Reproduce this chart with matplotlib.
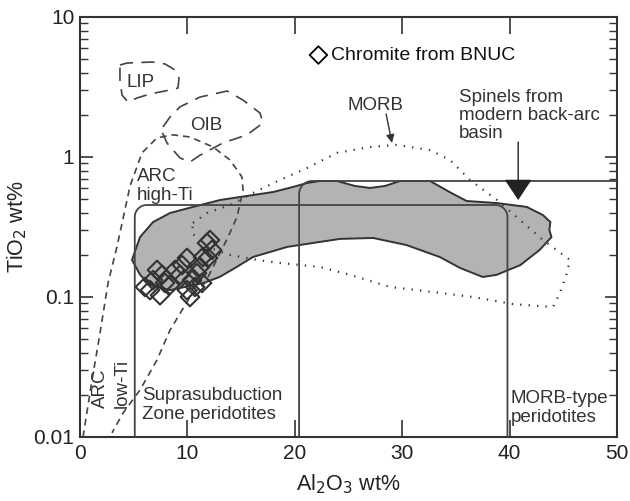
import numpy as np
import matplotlib.pyplot as plt
from matplotlib.ticker import LogLocator, NullFormatter

plt.rcParams['font.family'] = ['Liberation Sans', 'DejaVu Sans']

# chromite analyses (Al2O3, TiO2)
chr_al = [6.05, 6.8, 7.64, 7.45, 6.52, 7.91, 7.17, 8.38, 8.85, 9.5, 9.96, 10.43,
          9.96, 10.24, 10.89, 11.17, 11.45, 11.83, 12.29, 11.92, 11.36, 10.71, 9.31, 12.1]
chr_ti = [0.118, 0.132, 0.144, 0.103, 0.112, 0.126, 0.156, 0.122, 0.156, 0.169, 0.19, 0.132,
          0.112, 0.1, 0.148, 0.164, 0.193, 0.243, 0.217, 0.19, 0.126, 0.118, 0.144, 0.255]

# back-arc basin spinel field (grey)
bab_al = [4.84, 5.59, 6.8, 8.38, 10.52, 13.04, 15.55, 17.97, 19.83, 21.14, 22.35, 23.93, 25.6,
          27.0, 28.4, 29.8, 32.6, 34.45, 36.0, 38.8, 41.6, 43.1, 43.8, 43.7, 43.9, 42.8, 41.0,
          38.8, 37.5, 35.4, 33.5, 30.4, 27.3, 24.2, 19.3, 16.1, 14.6, 13.0, 11.5, 8.4, 6.5, 5.6]
bab_ti = [0.184, 0.268, 0.343, 0.398, 0.44, 0.493, 0.527, 0.562, 0.611, 0.652, 0.674, 0.674, 0.621,
          0.601, 0.621, 0.674, 0.674, 0.56, 0.485, 0.469, 0.44, 0.385, 0.343, 0.301, 0.268, 0.217,
          0.169, 0.144, 0.139, 0.161, 0.193, 0.235, 0.264, 0.26, 0.228, 0.193, 0.164, 0.139, 0.126,
          0.112, 0.122, 0.144]

# MORB field (dotted)
morb_al = [10.52, 11.83, 13.97, 16.11, 18.62, 21.14, 23.93, 27.0, 29.52, 32.59, 34.45, 36.31,
           38.83, 40.97, 43.11, 45.62, 45.34, 44.69, 44.04, 40.32, 36.59, 33.52, 28.86, 25.14,
           22.35, 18.62, 16.48, 13.97, 11.83, 10.43, 10.52]
morb_ti = [0.338, 0.398, 0.454, 0.553, 0.685, 0.834, 1.07, 1.18, 1.22, 1.12, 0.952, 0.685,
           0.493, 0.355, 0.255, 0.184, 0.148, 0.107, 0.0848, 0.089, 0.1, 0.107, 0.118, 0.144,
           0.164, 0.175, 0.184, 0.2, 0.228, 0.286, 0.338]

# LIP field
lip_al = [3.72, 4.38, 6.7, 7.91, 8.85, 9.22, 9.12, 7.91, 6.52, 5.31, 4.47, 3.91, 3.72]
lip_ti = [4.54, 4.69, 4.77, 4.62, 4.18, 3.66, 3.11, 2.96, 2.82, 2.64, 2.47, 2.77, 3.55]

# OIB field
oib_al = [7.73, 8.38, 9.31, 11.17, 13.69, 15.18, 16.76, 17.04, 15.55, 13.31, 11.17, 10.24,
          9.31, 8.1, 7.64, 7.73]
oib_ti = [1.64, 1.93, 2.28, 2.68, 2.96, 2.55, 2.06, 1.75, 1.44, 1.26, 1.03, 0.921,
          0.984, 1.26, 1.51, 1.64]

# ARC field
arc_al = [0.28, 1.12, 1.86, 2.61, 3.45, 4.66, 5.77, 7.17, 8.66, 10.24, 12.38, 13.97, 15.08,
          15.18, 14.62, 13.78, 13.04, 11.64, 10.24, 8.38, 7.17, 5.59, 4.0, 2.98]
arc_ti = [0.01, 0.0255, 0.055, 0.126, 0.23, 0.62, 1.07, 1.37, 1.44, 1.39, 1.18, 0.952, 0.72,
          0.581, 0.373, 0.268, 0.206, 0.126, 0.1, 0.058, 0.0355, 0.0217, 0.0148, 0.0107]

# peridotite boxes: left x, right x (None = axis edge), top TiO2
ssz_box = (5.1, 39.8, 0.454)
morb_box = (20.4, None, 0.674)

fig = plt.figure(figsize=(6.3, 5.01), dpi=100)
ax = fig.add_axes([80 / 630, 64 / 501, 537 / 630, 420 / 501])
ax.set_xlim(0, 50)
ax.set_yscale('log')
ax.set_ylim(0.01, 10)

dark = '#333333'


def to_ax(x, y):
    return x / 50.0, (np.log10(y) + 2) / 3.0


def box(x0, x1, top, r=12):
    # rounded-corner box drawn in axes coordinates
    rx, ry = r / 537.0, r / 420.0
    bx0, by = to_ax(x0, top)
    pts = [(bx0, 0)]
    t = np.linspace(np.pi, np.pi / 2, 12)
    pts += [(bx0 + rx + rx * np.cos(a), by - ry + ry * np.sin(a)) for a in t]
    if x1 is None:
        pts.append((1, by))
    else:
        bx1 = x1 / 50.0
        t = np.linspace(np.pi / 2, 0, 12)
        pts += [(bx1 - rx + rx * np.cos(a), by - ry + ry * np.sin(a)) for a in t]
        pts.append((bx1, 0))
    xs, ys = zip(*pts)
    ax.plot(xs, ys, color='#444444', lw=1.3, transform=ax.transAxes, zorder=3)


ax.fill(bab_al, bab_ti, facecolor='#b3b3b3', edgecolor=dark, lw=1.4, zorder=1)
box(*ssz_box)
box(*morb_box, r=13)
ax.plot(morb_al, morb_ti, color=dark, lw=1.6, ls=(0, (0.6, 3.2)), zorder=4)
ax.plot(lip_al + lip_al[:1], lip_ti + lip_ti[:1], color='#444444', lw=1.2,
        ls=(0, (8, 5)), zorder=4)
ax.plot(oib_al, oib_ti, color='#444444', lw=1.2, ls=(0, (8, 5)), zorder=4)
ax.plot(arc_al, arc_ti, color='#444444', lw=1.2, ls=(0, (4, 3)), zorder=4)

ax.scatter(chr_al, chr_ti, marker='D', s=90, facecolors='none', edgecolors=dark,
           linewidths=1.5, zorder=5)

# labels
fs = 13.5
ax.scatter([22.2], [5.35], marker='D', s=80, facecolors='none', edgecolors='black',
           linewidths=1.3, clip_on=False)
ax.text(23.4, 5.35, 'Chromite from BNUC', fontsize=14, va='center', color='#111111')
ax.text(5.6, 3.43, 'LIP', fontsize=fs, ha='center', va='center', color=dark)
ax.text(11.8, 1.69, 'OIB', fontsize=fs, ha='center', va='center', color=dark)
ax.text(5.3, 0.62, 'ARC\nhigh-Ti', fontsize=fs, ha='left', va='center', color=dark,
        linespacing=1.1)
ax.text(1.86, 0.0224, 'ARC', fontsize=fs, rotation=90, ha='center', va='center', color=dark)
ax.text(3.9, 0.0243, 'low-Ti', fontsize=fs, rotation=90, ha='center', va='center', color=dark)
ax.text(5.8, 0.0168, 'Suprasubduction\nZone peridotites', fontsize=fs, ha='left',
        va='center', color=dark, linespacing=1.15)
ax.text(40.1, 0.0161, 'MORB-type\nperidotites', fontsize=fs, ha='left', va='center',
        color=dark, linespacing=1.1)
ax.text(27.5, 2.35, 'MORB', fontsize=fs, ha='center', va='center', color=dark)
ax.annotate('', xy=(29.05, 1.26), xytext=(28.5, 2.03),
            arrowprops=dict(arrowstyle='-|>', mutation_scale=12, color=dark, lw=1,
                            shrinkA=0, shrinkB=0))
ax.text(35.3, 1.98, 'Spinels from\nmodern back-arc\nbasin', fontsize=fs, ha='left',
        va='center', color=dark, linespacing=1.1)
ax.annotate('', xy=(40.8, 0.493), xytext=(40.8, 1.28),
            arrowprops=dict(arrowstyle='-|>,head_length=0.6,head_width=0.4',
                            mutation_scale=22, color='#222222', lw=1,
                            shrinkA=0, shrinkB=0))

# axes styling
for s in ax.spines.values():
    s.set_linewidth(1.5)
    s.set_color(dark)
ax.set_xticks([0, 10, 20, 30, 40, 50])
ax.set_yticks([0.01, 0.1, 1, 10])
ax.set_yticklabels(['0.01', '0.1', '1', '10'])
ax.yaxis.set_minor_locator(LogLocator(base=10, subs=np.arange(2, 10)))
ax.yaxis.set_minor_formatter(NullFormatter())
ax.tick_params(which='both', direction='in', top=True, right=True, color=dark,
               labelsize=15, labelcolor='#222222')
ax.tick_params(axis='x', which='major', length=12, width=1.2, pad=5)
ax.tick_params(axis='y', which='major', length=9, width=1.2, pad=4)
ax.tick_params(axis='y', which='minor', length=6, width=1.0)
ax.set_xlabel('Al$_2$O$_3$ wt%', fontsize=15.5, color='#222222', labelpad=7)
ax.set_ylabel('TiO$_2$ wt%', fontsize=15.5, color='#222222')
ax.yaxis.set_label_coords(-0.095, 0.5)

fig.savefig('out.png', dpi=100)
